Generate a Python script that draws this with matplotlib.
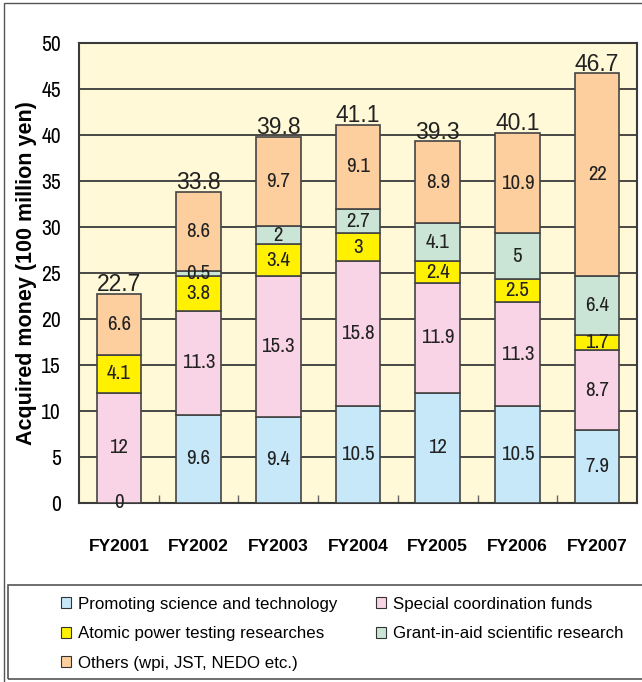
import numpy as np
import matplotlib
matplotlib.use('Agg')
import matplotlib.pyplot as plt
from matplotlib.patches import Patch, Rectangle

# data (100 million yen)
years = ['FY2001', 'FY2002', 'FY2003', 'FY2004', 'FY2005', 'FY2006', 'FY2007']
promoting = [0, 9.6, 9.4, 10.5, 12, 10.5, 7.9]
special = [12, 11.3, 15.3, 15.8, 11.9, 11.3, 8.7]
atomic = [4.1, 3.8, 3.4, 3, 2.4, 2.5, 1.7]
grant = [0, 0.5, 2, 2.7, 4.1, 5, 6.4]
others = [6.6, 8.6, 9.7, 9.1, 8.9, 10.9, 22]
totals = [22.7, 33.8, 39.8, 41.1, 39.3, 40.1, 46.7]

series = [
    ('Promoting science and technology', promoting, '#C6E8F8'),
    ('Special coordination funds', special, '#F9D4E6'),
    ('Atomic power testing researches', atomic, '#FFF100'),
    ('Grant-in-aid scientific research', grant, '#CAE5D6'),
    ('Others (wpi, JST, NEDO etc.)', others, '#FDCE9E'),
]

narrow = ['Archivo Narrow', 'Roboto Condensed', 'Liberation Sans', 'DejaVu Sans']
plain = ['Liberation Sans', 'DejaVu Sans']

fig = plt.figure(figsize=(6.42, 6.82), dpi=100)
ax = fig.add_axes([79 / 642, 1 - 503 / 682, (637 - 79) / 642, (503 - 43) / 682])
ax.set_facecolor('#FFF9D8')

x = np.arange(len(years))
bottom = np.zeros(len(years))
width = 0.56
for i, (name, vals, col) in enumerate(series):
    vals = np.array(vals, dtype=float)
    ax.bar(x, vals, width, bottom=bottom, color=col, edgecolor='#444444',
           linewidth=1.2, zorder=3)
    for xi, b, v in zip(x, bottom, vals):
        if v > 0 or i == 0:
            ax.text(xi, b + v / 2, f'{v:g}', ha='center', va='center',
                    family=narrow, fontsize=15, color='#222222', zorder=4)
    bottom += vals

for xi, t, top in zip(x, totals, bottom):
    ax.text(xi, top - 0.25, f'{t:g}', ha='center', va='bottom',
            family=plain, fontsize=16.5, color='#222222', zorder=4)

ax.set_xlim(-0.5, len(years) - 0.5)
ax.set_ylim(0, 50)
ax.set_yticks(np.arange(0, 51, 5))
ax.set_yticklabels([str(v) for v in range(0, 51, 5)], family=narrow, fontsize=15.5)
ax.yaxis.grid(True, color='#3a3a3a', linewidth=1.3, zorder=1)
ax.set_axisbelow(True)
ax.tick_params(axis='y', length=0, pad=13)

ax.set_xticks(x)
ax.set_xticklabels(years, family=plain, fontweight='bold', fontsize=12.5)
ax.set_xticks(np.arange(0.5, len(years) - 1, 1), minor=True)
ax.tick_params(axis='x', which='major', length=0, pad=26)
ax.tick_params(axis='x', which='minor', direction='in', length=6, width=1,
               color='#666666')

for sp in ax.spines.values():
    sp.set_color('#3a3a3a')
    sp.set_linewidth(1.5)

ax.set_ylabel('Acquired money (100 million yen)', family=plain,
              fontweight='bold', fontsize=15.5, labelpad=3)

# outer frame and legend box
fig.patches.append(Rectangle((4 / 642, -0.01), 1.0, 1 - 3 / 682 + 0.01,
                             transform=fig.transFigure, fill=False,
                             edgecolor='#555555', linewidth=1))
fig.patches.append(Rectangle((8 / 642, 1 - 679 / 682), 1.0, (679 - 585) / 682,
                             transform=fig.transFigure, fill=False,
                             edgecolor='#555555', linewidth=1.2))

order = [0, 2, 4, 1, 3]
handles = [Patch(facecolor=series[k][2], edgecolor='#333333', linewidth=0.8)
           for k in order]
labels = [series[k][0] for k in order]
fig.legend(handles, labels, ncol=2, loc='upper left',
           bbox_to_anchor=(54 / 642, 1 - 590 / 682), frameon=False,
           prop={'family': plain, 'size': 12.2}, handlelength=0.6,
           handleheight=0.6, handletextpad=0.4, columnspacing=2.3,
           labelspacing=0.85, borderaxespad=0)

fig.savefig('out.png', dpi=100)
